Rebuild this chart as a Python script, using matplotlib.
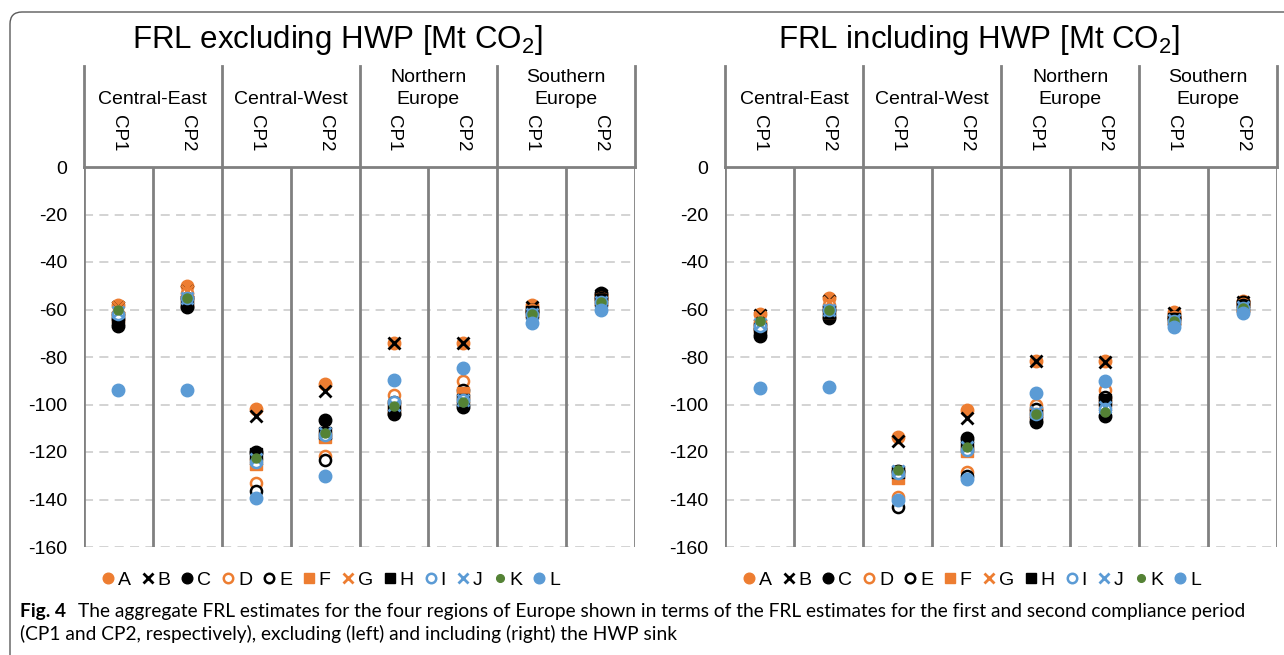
import matplotlib
matplotlib.use("Agg")
import matplotlib.pyplot as plt
from matplotlib.patches import FancyBboxPatch

# ---------------- data ----------------
regions = [["Central-East"], ["Central-West"], ["Northern", "Europe"], ["Southern", "Europe"]]
periods = ["CP1", "CP2"]
yticks = [0, -20, -40, -60, -80, -100, -120, -140, -160]
series = ["A", "B", "C", "D", "E", "F", "G", "H", "I", "J", "K", "L"]

# columns: CE-CP1, CE-CP2, CW-CP1, CW-CP2, NE-CP1, NE-CP2, SE-CP1, SE-CP2
excl_A = [-58, -50, -102, -91.5, -74, -74, -58, -54]
excl_B = [-59, -52, -105, -94.5, -74, -74, -59, -54]
excl_C = [-67, -59, -120, -106.5, -104, -101, -60, -53]
excl_D = [-62, -53, -133, -121.5, -96, -90, -60, -55]
excl_E = [-64, -55, -136.5, -123.5, -99, -94, -61, -55]
excl_F = [-63, -56, -125, -113.5, -101, -95, -61, -56]
excl_G = [-59, -52, -123, -112, -100, -97, -61, -56]
excl_H = [-64, -57, -121, -112, -102, -98, -61, -56]
excl_I = [-62, -55, -124, -113, -99, -98, -62, -57]
excl_J = [-61, -55, -123, -112, -100, -98, -62, -57]
excl_K = [-60, -55, -122.5, -112, -100.5, -99, -62, -57]
excl_L = [-94, -94, -139.5, -130, -89.5, -84.5, -65.5, -60]

incl_A = [-62, -55, -113.5, -102.5, -81.5, -81.5, -61, -56.5]
incl_B = [-62.5, -56.5, -115.5, -105.5, -81.5, -82, -61.5, -57]
incl_C = [-71, -63.5, -128, -114, -107.5, -105, -63, -57]
incl_D = [-66, -58, -139, -128.5, -100, -94, -63, -57.5]
incl_E = [-68, -60, -143, -130, -102, -97, -64, -58]
incl_F = [-67, -61, -131, -119.5, -104, -99, -64, -59]
incl_G = [-63, -57, -129, -118, -103, -100, -64, -58.5]
incl_H = [-68, -61, -128.5, -117, -105, -98, -64, -58.5]
incl_I = [-67, -60, -129, -119, -104, -102, -65, -59.5]
incl_J = [-66, -60, -128, -118, -103, -101, -64.5, -59]
incl_K = [-65, -60, -127.5, -118, -104, -103, -65, -59.5]
incl_L = [-93, -92.5, -140, -131.5, -95.3, -90.2, -67.3, -61.6]

excl = [excl_A, excl_B, excl_C, excl_D, excl_E, excl_F, excl_G, excl_H, excl_I, excl_J, excl_K, excl_L]
incl = [incl_A, incl_B, incl_C, incl_D, incl_E, incl_F, incl_G, incl_H, incl_I, incl_J, incl_K, incl_L]

# ---------------- style ----------------
OR, BL, GR, BK = "#ED7D31", "#5B9BD5", "#548235", "#000000"
styles = {
    "A": dict(marker="o", color=OR, mfc=OR, ms=9),
    "B": dict(marker="x", color=BK, mfc=BK, ms=8, mew=2),
    "C": dict(marker="o", color=BK, mfc=BK, ms=9),
    "D": dict(marker="o", color=OR, mfc="white", ms=8, mew=1.8),
    "E": dict(marker="o", color=BK, mfc="white", ms=8, mew=1.8),
    "F": dict(marker="s", color=OR, mfc=OR, ms=8),
    "G": dict(marker="x", color=OR, mfc=OR, ms=8, mew=2),
    "H": dict(marker="s", color=BK, mfc=BK, ms=8),
    "I": dict(marker="o", color=BL, mfc="white", ms=8, mew=1.8),
    "J": dict(marker="x", color=BL, mfc=BL, ms=8, mew=2),
    "K": dict(marker="o", color=GR, mfc=GR, ms=6.5),
    "L": dict(marker="o", color=BL, mfc=BL, ms=9),
}

FONT = "Liberation Sans"
plt.rcParams["font.family"] = [FONT, "DejaVu Sans"]

W, H = 1284, 655
fig = plt.figure(figsize=(W / 100, H / 100), dpi=100)

# rounded frame
frame = FancyBboxPatch((0.10, -0.5), 13.5, 6.43 + 0.5, boxstyle="round,pad=0,rounding_size=0.12",
                       transform=fig.dpi_scale_trans, fc="none", ec="#5a5a5a", lw=1.0)
fig.patches.append(frame)

PX = 2.375  # pixels per data unit


def py2d(py):
    return (167 - py) / PX


def make_panel(left_px, right_px, data, title, title_x):
    ax = fig.add_axes([left_px / W, (H - 547) / H, (right_px - left_px) / W, 380 / H])
    ax.set_xlim(0, 8)
    ax.set_ylim(-160, 0)
    for s in ax.spines.values():
        s.set_visible(False)
    ax.set_xticks([])
    ax.set_yticks(yticks)
    ax.set_yticklabels([str(v) for v in yticks], fontsize=14, color="#000000")
    ax.tick_params(axis="y", length=0, pad=12)
    for v in yticks[1:]:
        ax.axhline(v, color="#D0D0D0", lw=1.3, ls=(0, (5, 3.5)), zorder=0)
    ax.axhline(0, color="#808080", lw=2, zorder=1, clip_on=False)
    for i in range(9):
        ax.axvline(i, color="#808080", lw=2, zorder=1)
    # header
    top = py2d(66)
    for i in range(0, 9, 2):
        ax.plot([i, i], [0, top], color="#808080", lw=2, clip_on=False, zorder=1)
    for r, names in enumerate(regions):
        xc = 2 * r + 1
        if len(names) == 1:
            ax.text(xc, py2d(99), names[0], ha="center", va="center", fontsize=14, clip_on=False)
        else:
            ax.text(xc, py2d(78), names[0], ha="center", va="center", fontsize=14, clip_on=False)
            ax.text(xc, py2d(99), names[1], ha="center", va="center", fontsize=14, clip_on=False)
        for k, p in enumerate(periods):
            ax.text(2 * r + k + 0.5, py2d(133), p, ha="center", va="center", rotation=-90,
                    fontsize=13.5, clip_on=False)
    # data
    handles = []
    for name, vals in zip(series, data):
        st = styles[name]
        xs = [i + 0.5 for i in range(len(vals))]
        h, = ax.plot(xs, vals, ls="none", marker=st["marker"], color=st["color"],
                     markerfacecolor=st["mfc"], markeredgecolor=st["color"],
                     markersize=st["ms"], markeredgewidth=st.get("mew", 1.0),
                     zorder=3, clip_on=False, label=name)
        handles.append(h)
    fig.text(title_x / W, 1 - 40 / H, title, ha="center", va="center", fontsize=22.5)
    return ax, handles


ax1, hs = make_panel(84, 635, excl, r"FRL excluding HWP [Mt CO$_\mathregular{2}$]", 337)
ax2, _ = make_panel(725, 1277, incl, r"FRL including HWP [Mt CO$_\mathregular{2}$]", 979)

for cx in (331, 972):
    fig.legend(handles=hs, labels=series, loc="center", bbox_to_anchor=(cx / W, 1 - 580 / H),
               ncol=12, frameon=False, fontsize=14, handlelength=0.6, handletextpad=0.2,
               columnspacing=0.58, borderpad=0, borderaxespad=0, markerscale=0.85)

cap_font = ["Lato", "DejaVu Sans"]
fig.text(20 / W, 1 - 611 / H, "Fig. 4", fontsize=13.8, fontweight="bold", family=cap_font,
         ha="left", va="center")
fig.text(78 / W, 1 - 611 / H,
         "The aggregate FRL estimates for the four regions of Europe shown in terms of the FRL "
         "estimates for the first and second compliance period",
         fontsize=13.8, family=cap_font, ha="left", va="center")
fig.text(20 / W, 1 - 634 / H,
         "(CP1 and CP2, respectively), excluding (left) and including (right) the HWP sink",
         fontsize=13.8, family=cap_font, ha="left", va="center")

fig.savefig("out.png", dpi=100)
